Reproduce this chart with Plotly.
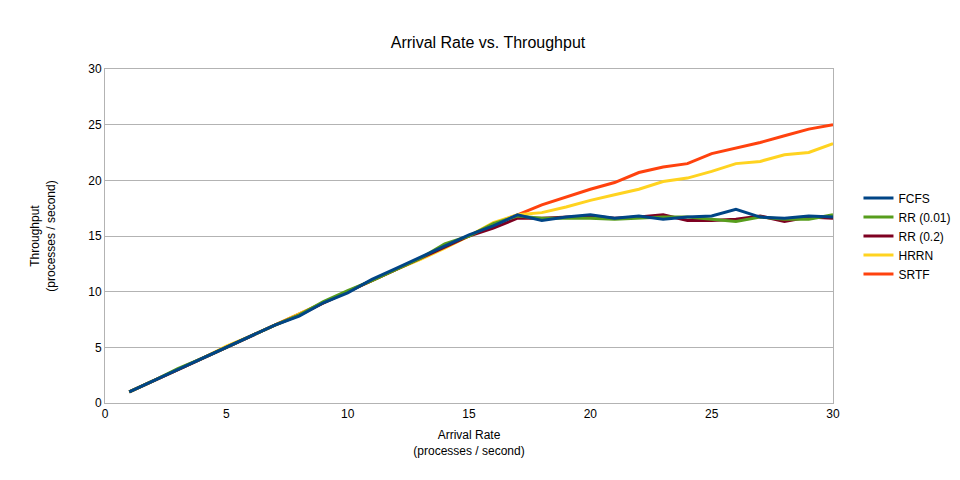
import plotly.graph_objs as go

# Tasa de llegada (eje x)
rate = list(range(1, 31))

fcfs = [1, 2, 3, 4, 5, 6, 7, 7.8, 9, 9.9, 11.1, 12.1, 13.1, 14.1, 15.1, 15.9,
        16.9, 16.4, 16.7, 16.9, 16.6, 16.8, 16.5, 16.7, 16.8, 17.4, 16.7, 16.6, 16.8, 16.7]
rr001 = [1, 2, 3.1, 4, 5, 6, 7, 7.9, 9.1, 10.1, 11, 12, 13, 14.3, 15, 16.1,
         16.8, 16.6, 16.6, 16.6, 16.5, 16.6, 16.7, 16.7, 16.5, 16.3, 16.7, 16.5, 16.5, 16.9]
rr02 = [1, 2, 3, 4, 5, 6, 7, 7.9, 9, 10, 11, 12, 13, 14, 15, 15.7,
        16.6, 16.6, 16.7, 16.8, 16.6, 16.7, 16.9, 16.4, 16.4, 16.5, 16.8, 16.3, 16.7, 16.6]
hrrn = [1, 2, 3, 4, 5.1, 6, 7, 8, 9, 10, 11, 12, 12.9, 13.9, 15, 16.2,
        16.9, 17.1, 17.6, 18.2, 18.7, 19.2, 19.9, 20.2, 20.8, 21.5, 21.7, 22.3, 22.5, 23.3]
srtf = [1, 2, 3, 4, 5, 6, 7, 8, 9, 10, 11, 12, 13, 14, 15, 16.1,
        16.9, 17.8, 18.5, 19.2, 19.8, 20.7, 21.2, 21.5, 22.4, 22.9, 23.4, 24.0, 24.6, 25.0]

series = [
    ('FCFS', fcfs, '#004586'),
    ('RR (0.01)', rr001, '#579d1c'),
    ('RR (0.2)', rr02, '#7e0021'),
    ('HRRN', hrrn, '#ffd320'),
    ('SRTF', srtf, '#ff420e'),
]

fig = go.Figure()
# dibujar en orden inverso para que FCFS quede encima
for name, ys, color in reversed(series):
    fig.add_trace(go.Scatter(x=rate, y=ys, mode='lines', name=name,
                             line=dict(color=color, width=3)))

fig.update_layout(
    title=dict(text='Arrival Rate vs. Throughput', x=0.5, y=0.94, xanchor='center',
               font=dict(size=16, color='black')),
    font=dict(family='Liberation Sans', size=12, color='black'),
    width=960, height=480,
    margin=dict(l=97, r=129, t=61, b=85),
    plot_bgcolor='white', paper_bgcolor='white',
    legend=dict(traceorder='reversed', x=1.035, y=0.5, yanchor='middle',
                font=dict(size=12), tracegroupgap=0),
    xaxis=dict(range=[0, 30], dtick=5, showgrid=False, linecolor='#b3b3b3',
               mirror=True, ticks='', zeroline=False, automargin=False,
               title=dict(text='Arrival Rate<br>(processes / second)', font=dict(size=12),
                          standoff=10)),
    yaxis=dict(range=[0, 30], dtick=5, gridcolor='#b3b3b3', linecolor='#b3b3b3',
               mirror=True, zeroline=False, automargin=False,
               title=dict(text='Throughput<br>(processes / second)', font=dict(size=12),
                          standoff=30)),
)

fig.write_html('out.html')
